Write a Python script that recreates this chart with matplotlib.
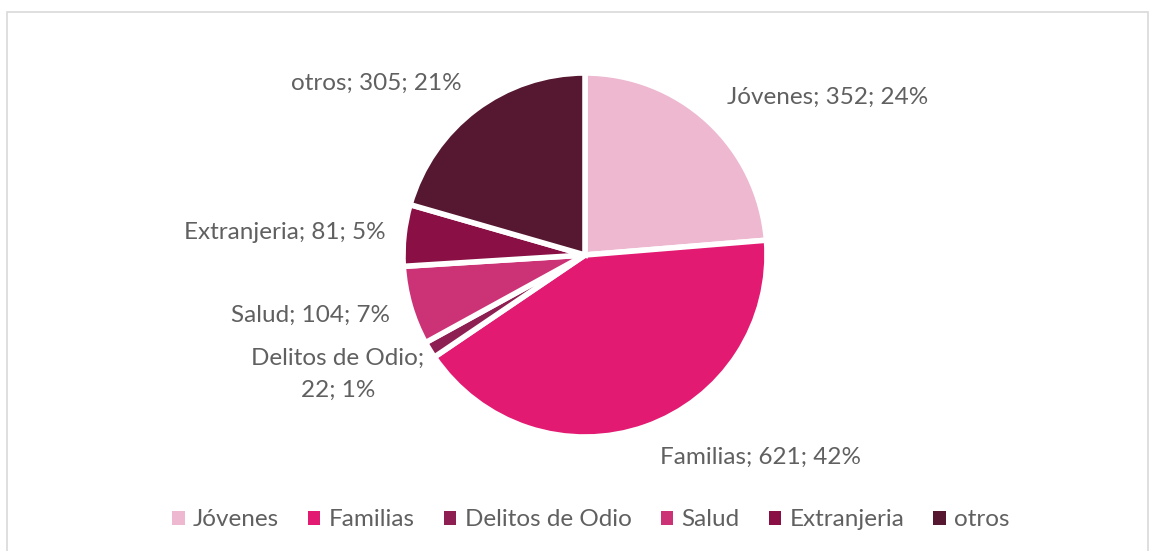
import matplotlib
matplotlib.use('Agg')
import matplotlib.pyplot as plt
from matplotlib.patches import Rectangle

# datos
categorias = ['Jóvenes', 'Familias', 'Delitos de Odio', 'Salud', 'Extranjeria', 'otros']
valores = [352, 621, 22, 104, 81, 305]
colores = ['#EDB8D0', '#E31A72', '#8E1F52', '#CC3377', '#8A0F45', '#561730']
etiquetas = ['Jóvenes; 352; 24%', 'Familias; 621; 42%', 'Delitos de Odio;\n22; 1%',
             'Salud; 104; 7%', 'Extranjeria; 81; 5%', 'otros; 305; 21%']

plt.rcParams['font.family'] = ['Lato', 'DejaVu Sans']
TXT = '#606060'
FS = 17.5

W, H = 1155, 551
fig = plt.figure(figsize=(W / 100, H / 100), dpi=100)

# centro y radio del pastel en píxeles
cx, cy, r = 585, 255, 182
ax = fig.add_axes([(cx - r) / W, (H - cy - r) / H, 2 * r / W, 2 * r / H])

wedges, _ = ax.pie(valores, colors=colores, startangle=90, counterclock=False,
                   wedgeprops=dict(edgecolor='white', linewidth=4))
ax.set_xlim(-1, 1)
ax.set_ylim(-1, 1)
ax.set_aspect('equal')
ax.axis('off')

# posición de etiquetas (coordenadas del pastel), alineación
pos = [(0.78, 0.868, 'left'), (0.41, -1.11, 'left'), (-1.357, -0.654, 'center'),
       (-1.071, -0.33, 'right'), (-1.093, 0.121, 'right'), (-0.676, 0.945, 'right')]
for txt, (x, y, ha) in zip(etiquetas, pos):
    ax.text(x, y, txt, ha=ha, va='center', fontsize=FS, color=TXT,
            linespacing=1.65, clip_on=False)

leg = fig.legend(wedges, categorias, loc='center', bbox_to_anchor=(591 / W, 1 - 520 / H),
                 ncol=6, frameon=False, fontsize=FS,
                 handlelength=0.5, handleheight=0.5,
                 handletextpad=0.35, columnspacing=1.2, labelcolor=TXT)
for h in leg.legend_handles:
    h.set_linewidth(0)

# marco
fig.patches.append(Rectangle((7 / W, -0.05), (1148 - 7) / W, 1 - 12 / H + 0.05,
                             transform=fig.transFigure, fill=False,
                             edgecolor='#D9D9D9', linewidth=1.2))

fig.savefig('out.png', dpi=100)
